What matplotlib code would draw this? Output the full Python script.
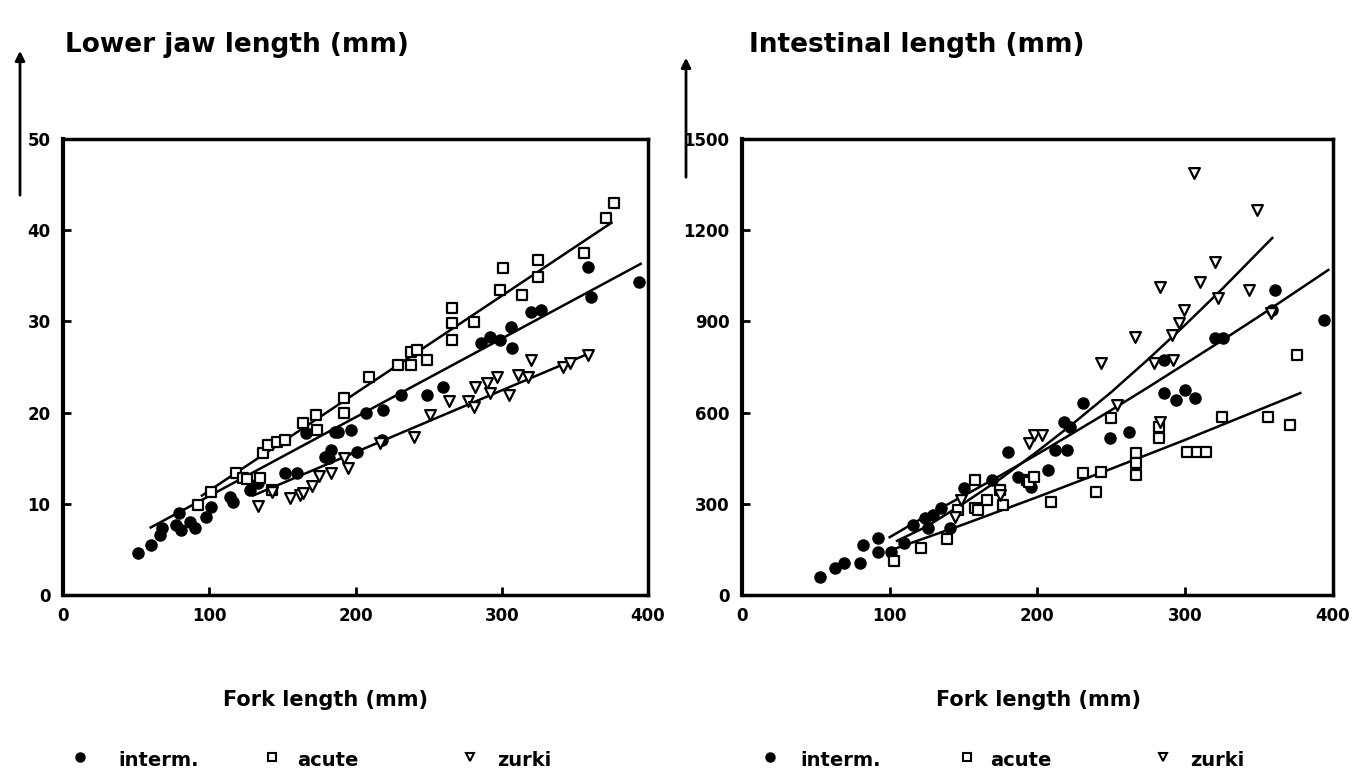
import matplotlib
matplotlib.use('Agg')
import matplotlib.pyplot as plt
from matplotlib.lines import Line2D
from matplotlib.patches import FancyArrowPatch

plt.rcParams['font.family'] = ['DejaVu Sans']
plt.rcParams['font.weight'] = 'bold'

# ---- lower jaw length vs fork length ----
jaw_interm_x = [51, 60, 66, 68, 77, 79, 81, 87, 90, 98, 101, 114, 116, 128, 133, 152, 160, 166, 179, 182,
                183, 186, 188, 197, 201, 207, 218, 219, 231, 249, 260, 286, 292, 299, 306, 307, 320, 327,
                359, 361, 394]
jaw_interm_y = [4.6, 5.5, 6.6, 7.3, 7.7, 9.0, 7.1, 8.0, 7.3, 8.6, 9.6, 10.7, 10.2, 11.5, 12.3, 13.4, 13.4,
                17.8, 15.1, 15.0, 15.9, 17.9, 17.9, 18.1, 15.7, 20.0, 17.0, 20.3, 21.9, 21.9, 22.8, 27.6,
                28.3, 28.0, 29.4, 27.1, 31.0, 31.2, 36.0, 32.7, 34.3]
jaw_acute_x = [92, 101, 118, 123, 126, 135, 137, 140, 143, 146, 152, 164, 173, 174, 192, 192, 209, 229,
               238, 242, 238, 249, 266, 266, 266, 281, 299, 301, 314, 325, 325, 356, 371, 377]
jaw_acute_y = [9.9, 11.3, 13.4, 12.8, 12.7, 12.8, 15.6, 16.4, 11.5, 16.8, 17.0, 18.8, 19.7, 18.1, 21.6,
               20.0, 23.9, 25.2, 26.6, 26.9, 25.2, 25.8, 31.5, 29.8, 28.0, 29.9, 33.4, 35.8, 32.9, 36.7,
               34.9, 37.5, 41.3, 43.0]
jaw_zurki_x = [133, 143, 155, 162, 164, 170, 175, 183, 192, 195, 217, 240, 251, 264, 277, 281, 282, 290,
               292, 297, 305, 311, 318, 320, 342, 347, 359]
jaw_zurki_y = [9.7, 11.3, 10.6, 11.0, 11.2, 12.0, 13.0, 13.4, 15.0, 13.9, 16.7, 17.3, 19.7, 21.3, 21.3,
               20.6, 22.8, 23.2, 22.1, 23.9, 21.9, 24.1, 23.9, 25.8, 25.0, 25.4, 26.3]

# regression lines (end points)
jaw_fit_interm = ([60, 395], [7.4, 36.3])
jaw_fit_acute = ([95, 375], [10.9, 40.8])
jaw_fit_zurki = ([130, 360], [10.9, 26.5])

# ---- intestinal length vs fork length ----
int_interm_x = [53, 63, 69, 80, 82, 92, 92, 101, 110, 116, 124, 126, 129, 135, 141, 150, 169, 180, 187,
                196, 207, 212, 220, 218, 222, 231, 249, 262, 286, 294, 300, 307, 286, 320, 326, 359, 361,
                394]
int_interm_y = [59, 89, 105, 105, 164, 187, 142, 141, 171, 230, 253, 220, 263, 286, 220, 352, 378, 470,
                388, 355, 411, 477, 477, 569, 554, 631, 516, 536, 664, 641, 674, 648, 773, 845, 845, 937,
                1003, 905]
int_acute_x = [103, 121, 139, 146, 158, 160, 166, 175, 177, 158, 193, 194, 198, 209, 231, 240, 243, 250,
               267, 267, 267, 282, 282, 301, 308, 314, 325, 356, 371, 376]
int_acute_y = [112, 156, 184, 280, 286, 280, 313, 345, 296, 378, 378, 372, 388, 306, 401, 339, 405, 582,
               467, 434, 395, 553, 516, 470, 470, 470, 586, 586, 559, 789]
int_zurki_x = [144, 148, 175, 194, 198, 203, 243, 254, 266, 279, 283, 283, 291, 292, 296, 299, 306, 310,
               320, 322, 343, 349, 358]
int_zurki_y = [257, 312, 330, 500, 526, 526, 763, 625, 849, 763, 569, 1013, 855, 773, 895, 937, 1388,
               1030, 1095, 977, 1003, 1266, 927]

# fitted curves, points
int_fit_interm = ([100, 125, 150, 175, 200, 225, 250, 275, 300, 325, 350, 397],
                  [190, 261, 326, 393, 463, 535, 608, 683, 760, 837, 916, 1069])
int_fit_acute = ([100, 150, 200, 250, 300, 378], [146, 232, 322, 415, 510, 664])
int_fit_zurki = ([105, 125, 150, 175, 200, 225, 250, 275, 300, 325, 359],
                 [178, 225, 301, 382, 472, 567, 667, 775, 888, 1006, 1174])

x_ticks = [0, 100, 200, 300, 400]
jaw_ticks = [0, 10, 20, 30, 40, 50]
int_ticks = [0, 300, 600, 900, 1200, 1500]
labels = ['interm.', 'acute', 'zurki']

fig = plt.figure(figsize=(13.52, 7.81), dpi=100)
ax1 = fig.add_axes([0.0466, 0.2382, 0.4327, 0.584])
ax2 = fig.add_axes([0.5488, 0.2382, 0.4370, 0.584])


def style_axes(ax, yticks):
    ax.set_xlim(0, 400)
    ax.set_ylim(yticks[0], yticks[-1])
    ax.set_xticks(x_ticks)
    ax.set_yticks(yticks)
    ax.tick_params(direction='in', length=6, width=2, labelsize=12, pad=9)
    for s in ax.spines.values():
        s.set_linewidth(2.5)
    ax.spines['left'].set_linewidth(3)


def draw(ax, interm, acute, zurki, fits):
    for (fx, fy) in fits:
        ax.plot(fx, fy, color='black', lw=1.8, zorder=2)
    ax.scatter(*interm, s=64, marker='o', color='black', zorder=3)
    ax.scatter(*acute, s=60, marker='s', facecolor='white', edgecolor='black', linewidth=1.6, zorder=3)
    ax.scatter(*zurki, s=60, marker='v', facecolor='white', edgecolor='black', linewidth=1.6, zorder=3)


draw(ax1, (jaw_interm_x, jaw_interm_y), (jaw_acute_x, jaw_acute_y), (jaw_zurki_x, jaw_zurki_y),
     [jaw_fit_interm, jaw_fit_acute, jaw_fit_zurki])
draw(ax2, (int_interm_x, int_interm_y), (int_acute_x, int_acute_y), (int_zurki_x, int_zurki_y),
     [int_fit_interm, int_fit_acute, int_fit_zurki])
style_axes(ax1, jaw_ticks)
style_axes(ax2, int_ticks)

# titles and axis labels
fig.text(0.048, 0.942, 'Lower jaw length (mm)', fontsize=19, va='center', ha='left')
fig.text(0.554, 0.942, 'Intestinal length (mm)', fontsize=19, va='center', ha='left')
fig.text(0.241, 0.104, 'Fork length (mm)', fontsize=15, va='center', ha='center')
fig.text(0.768, 0.104, 'Fork length (mm)', fontsize=15, va='center', ha='center')

# arrows above the y axes
for xa, y0, y1 in ((0.0148, 0.7465, 0.9385), (0.5074, 0.7695, 0.9296)):
    fig.add_artist(FancyArrowPatch((xa, y0), (xa, y1), transform=fig.transFigure,
                                   arrowstyle='-|>', mutation_scale=14, lw=2, color='black'))

# legends: marker x, text x (pixels) for each panel
legend_markers = [dict(marker='o', mfc='black', mec='black'),
                  dict(marker='s', mfc='white', mec='black'),
                  dict(marker='v', mfc='white', mec='black')]
legend_pos = [[(80, 118), (272, 297), (470, 497)],
              [(770, 800), (967, 990), (1163, 1190)]]
ly = 1 - 760 / 781
for row in legend_pos:
    for (mx, tx), mk, lab in zip(row, legend_markers, labels):
        fig.add_artist(Line2D([mx / 1352], [ly + 0.004], transform=fig.transFigure, ls='none',
                              markersize=6, mew=1.5, **mk))
        fig.text(tx / 1352, ly, lab, fontsize=14, va='center', ha='left')

fig.savefig('out.png', dpi=100, facecolor='white')
